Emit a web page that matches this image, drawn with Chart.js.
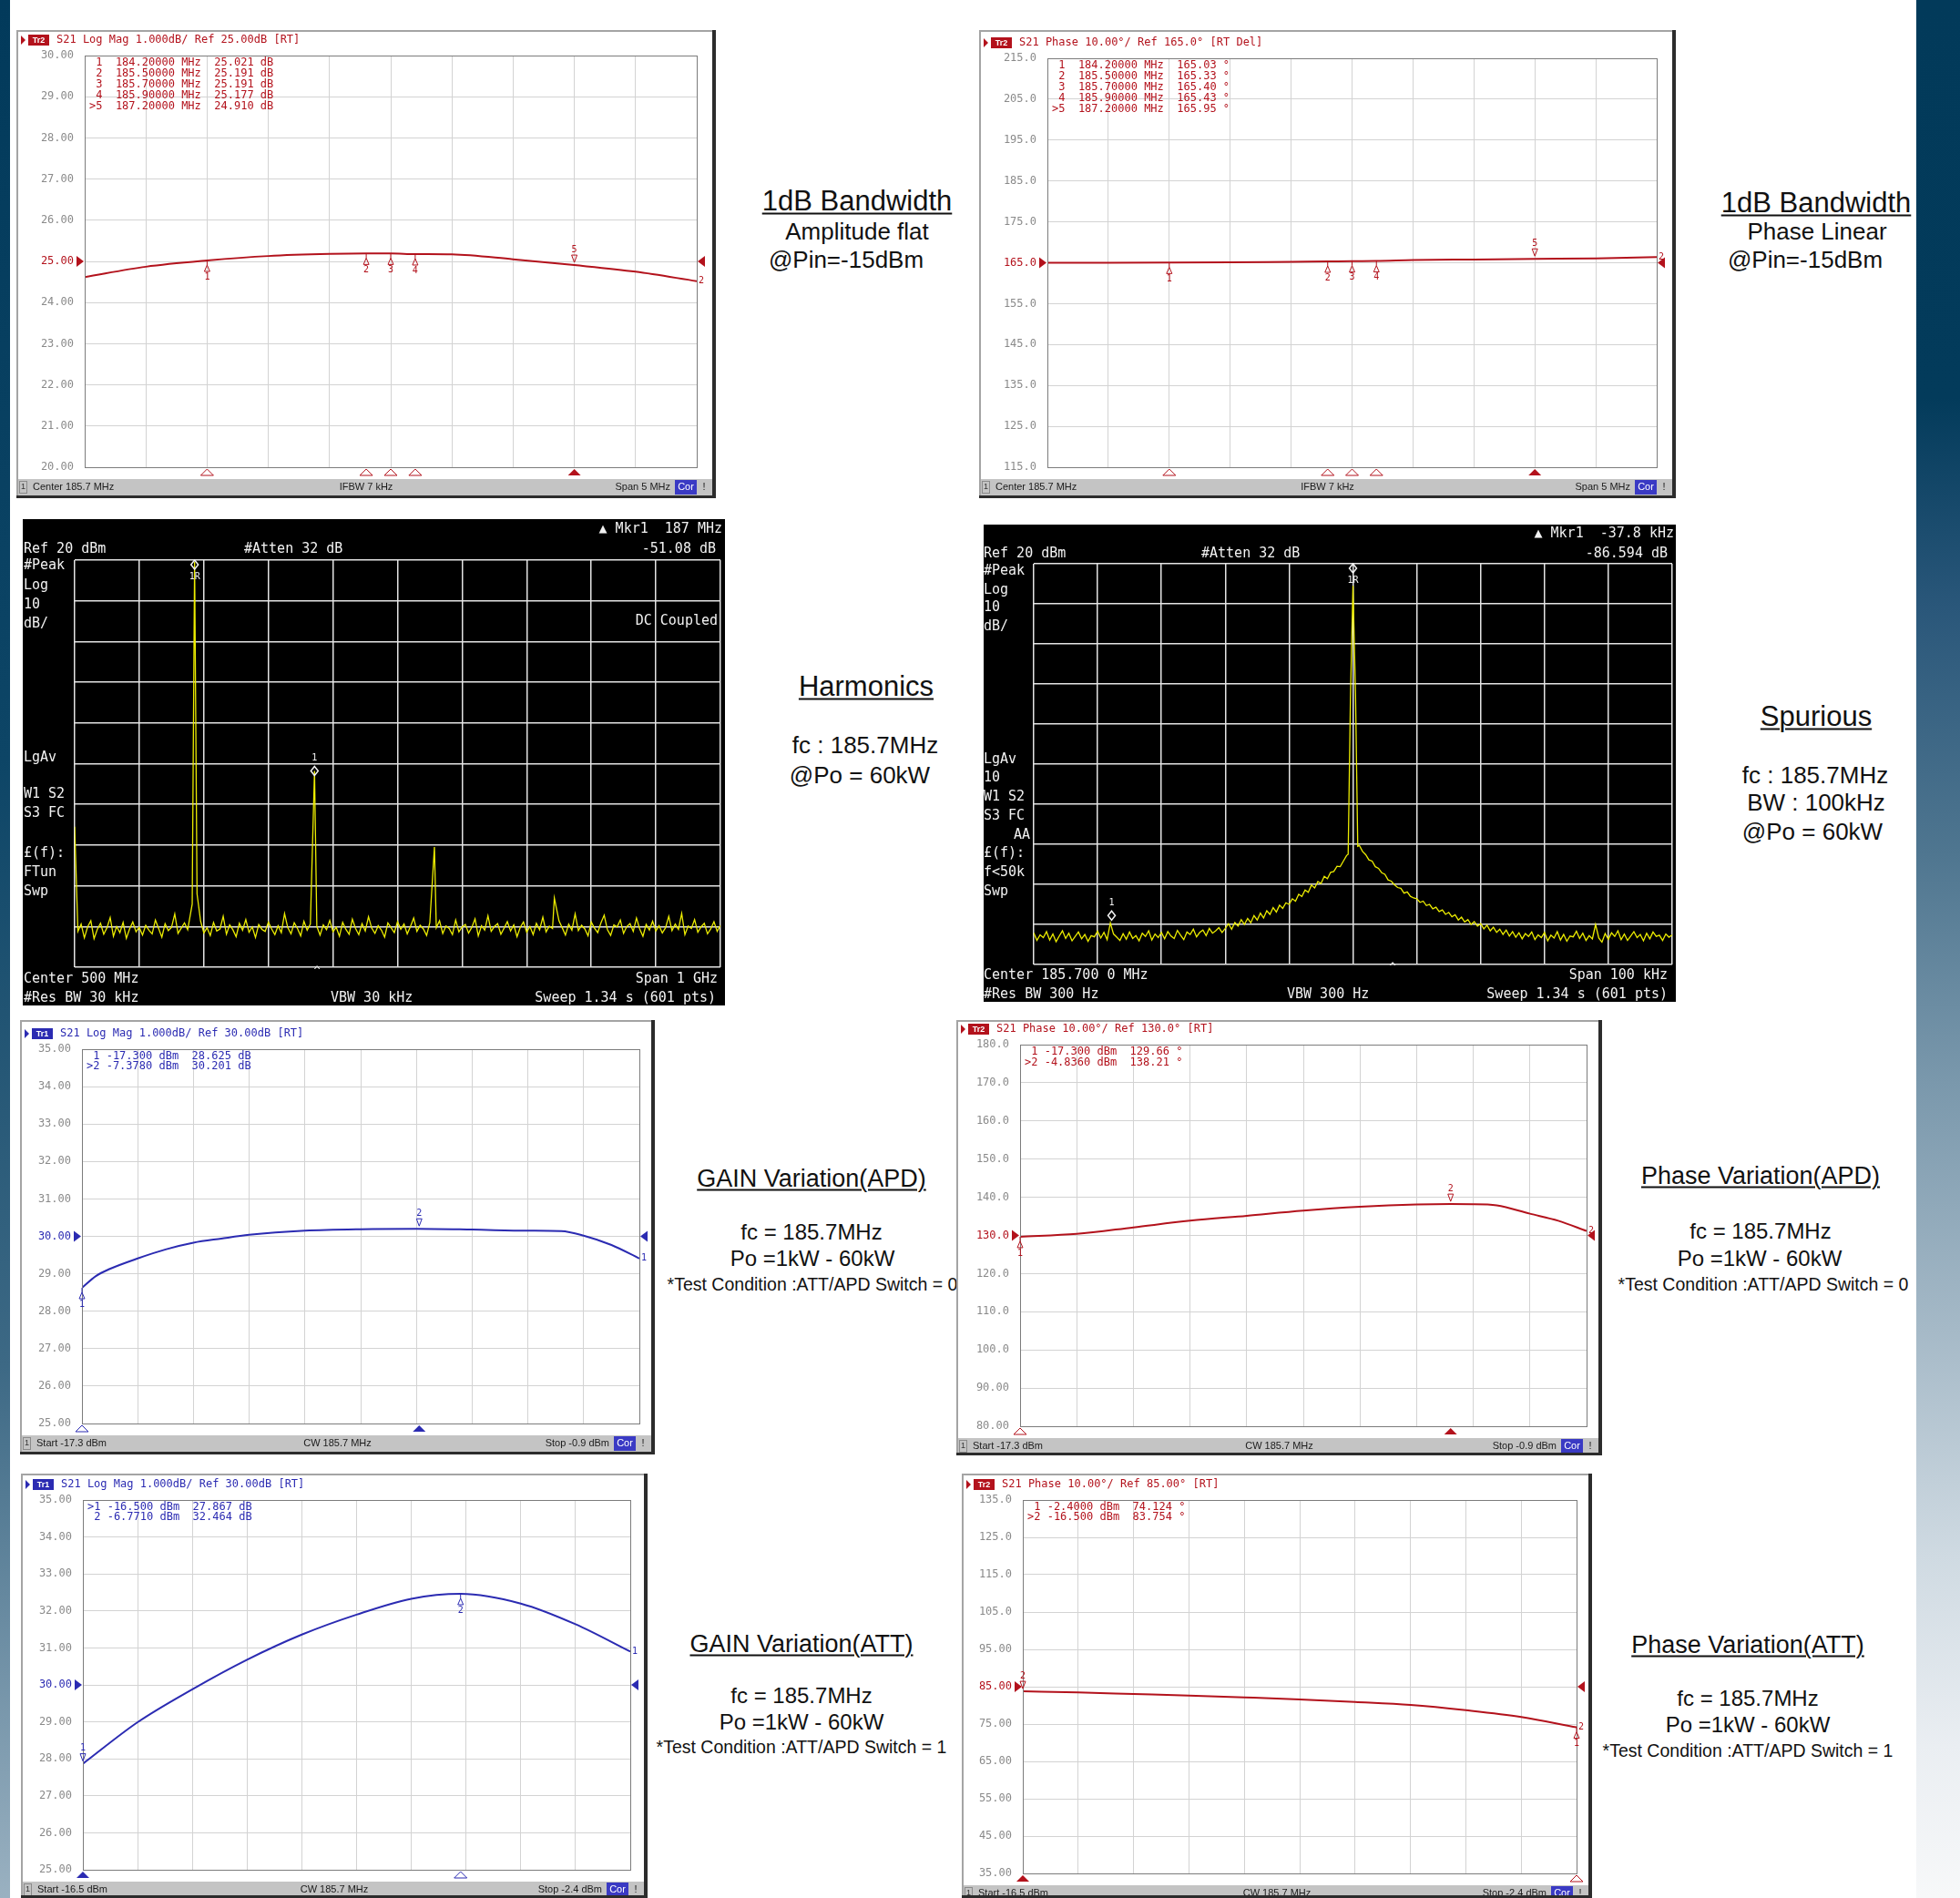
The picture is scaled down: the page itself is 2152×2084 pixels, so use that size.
<!DOCTYPE html>
<html>
<head>
<meta charset="utf-8">
<title>PA test results</title>
<script src="https://cdn.jsdelivr.net/npm/chart.js@4.4.1/dist/chart.umd.min.js"></script>
<style>
  html, body { margin: 0; padding: 0; background: #fff; overflow: hidden; }
  #page { position: relative; width: 2152px; height: 2084px; overflow: hidden; background: #fff;
          font-family: "Liberation Sans", Arial, sans-serif; color: #111; }
  .strip { position: absolute; top: 0; height: 2084px; }
  #stripL { left: 0; width: 11px; background: linear-gradient(#023a5b 0%, #0d4566 40%, #3d6985 72%, #9ab1c1 100%); }
  #stripR { left: 2104px; width: 48px; background: linear-gradient(#023a5a 0%, #033b5b 21%, #2a577a 32%, #4f7690 45%, #7a98ac 57%, #a5b9c7 70%, #cfdae2 82%, #eaeef2 92%, #f7f8f9 100%); }
  .panel { position: absolute; }
  .panel canvas { display: block; }
  .t { position: absolute; white-space: nowrap; transform: translate(-50%, -50%); line-height: 1; }
  .h { text-decoration: underline; text-decoration-thickness: 2px; text-underline-offset: 3px; }
</style>
</head>
<body>
<div id="page">
  <div class="strip" id="stripL"></div>
  <div class="strip" id="stripR"></div>

  <!-- captions -->
  <div class="t h" style="left:941px;top:220px;font-size:31px">1dB Bandwidth</div>
  <div class="t" style="left:941px;top:254px;font-size:26px">Amplitude flat</div>
  <div class="t" style="left:929px;top:285px;font-size:26px">@Pin=-15dBm</div>

  <div class="t h" style="left:1994px;top:222px;font-size:31px">1dB Bandwidth</div>
  <div class="t" style="left:1995px;top:254px;font-size:26px">Phase Linear</div>
  <div class="t" style="left:1982px;top:285px;font-size:26px">@Pin=-15dBm</div>

  <div class="t h" style="left:951px;top:753px;font-size:31px">Harmonics</div>
  <div class="t" style="left:950px;top:818px;font-size:26px">fc : 185.7MHz</div>
  <div class="t" style="left:944px;top:851px;font-size:26px">@Po = 60kW</div>

  <div class="t h" style="left:1994px;top:786px;font-size:31px">Spurious</div>
  <div class="t" style="left:1993px;top:851px;font-size:26px">fc : 185.7MHz</div>
  <div class="t" style="left:1994px;top:881px;font-size:26px">BW : 100kHz</div>
  <div class="t" style="left:1990px;top:913px;font-size:26px">@Po = 60kW</div>

  <div class="t h" style="left:891px;top:1294px;font-size:27px">GAIN Variation(APD)</div>
  <div class="t" style="left:891px;top:1353px;font-size:24px">fc = 185.7MHz</div>
  <div class="t" style="left:892px;top:1382px;font-size:24px">Po =1kW - 60kW</div>
  <div class="t" style="left:892px;top:1411px;font-size:19.5px">*Test Condition :ATT/APD Switch = 0</div>

  <div class="t h" style="left:1933px;top:1291px;font-size:27px">Phase Variation(APD)</div>
  <div class="t" style="left:1933px;top:1352px;font-size:24px">fc = 185.7MHz</div>
  <div class="t" style="left:1932px;top:1382px;font-size:24px">Po =1kW - 60kW</div>
  <div class="t" style="left:1936px;top:1411px;font-size:19.5px">*Test Condition :ATT/APD Switch = 0</div>

  <div class="t h" style="left:880px;top:1805px;font-size:27px">GAIN Variation(ATT)</div>
  <div class="t" style="left:880px;top:1862px;font-size:24px">fc = 185.7MHz</div>
  <div class="t" style="left:880px;top:1891px;font-size:24px">Po =1kW - 60kW</div>
  <div class="t" style="left:880px;top:1919px;font-size:19.5px">*Test Condition :ATT/APD Switch = 1</div>

  <div class="t h" style="left:1919px;top:1806px;font-size:27px">Phase Variation(ATT)</div>
  <div class="t" style="left:1919px;top:1865px;font-size:24px">fc = 185.7MHz</div>
  <div class="t" style="left:1919px;top:1894px;font-size:24px">Po =1kW - 60kW</div>
  <div class="t" style="left:1919px;top:1923px;font-size:19.5px">*Test Condition :ATT/APD Switch = 1</div>

  <!-- instrument screens -->
  <div class="panel" style="left:18px;top:33px"><canvas id="cBwGain" width="768" height="514"></canvas></div>
  <div class="panel" style="left:1075px;top:33px"><canvas id="cBwPhase" width="765" height="514"></canvas></div>
  <div class="panel" style="left:25px;top:570px"><canvas id="cHarm" width="771" height="534"></canvas></div>
  <div class="panel" style="left:1080px;top:576px"><canvas id="cSpur" width="760" height="524"></canvas></div>
  <div class="panel" style="left:22px;top:1120px"><canvas id="cApdGain" width="697" height="477"></canvas></div>
  <div class="panel" style="left:1050px;top:1120px"><canvas id="cApdPhase" width="709" height="478"></canvas></div>
  <div class="panel" style="left:23px;top:1618px"><canvas id="cAttGain" width="688" height="466"></canvas></div>
  <div class="panel" style="left:1056px;top:1618px"><canvas id="cAttPhase" width="692" height="466"></canvas></div>
</div>

<script>
// ===== DATA =====

// 1 dB bandwidth, frequency sweep (Center 185.7 MHz, Span 5 MHz)
const bwCenter = 185.7, bwSpan = 5;
const bwFreq  = [183.2, 183.7, 184.2, 184.7, 185.2, 185.5, 185.7, 185.9, 186.2, 186.7, 187.2, 187.7, 188.2];
const bwGain  = [24.62, 24.87, 25.021, 25.13, 25.18, 25.191, 25.191, 25.177, 25.17, 25.05, 24.910, 24.75, 24.52];
const bwPhase = [165.0, 165.0, 165.03, 165.1, 165.25, 165.33, 165.40, 165.43, 165.65, 165.8, 165.95, 166.05, 166.4];
const bwMkrFreq  = [184.2, 185.5, 185.7, 185.9, 187.2];
const bwMkrGain  = [25.021, 25.191, 25.191, 25.177, 24.910];
const bwMkrPhase = [165.03, 165.33, 165.40, 165.43, 165.95];

// APD power sweep (Start -17.3 dBm, Stop -0.9 dBm)
const apdStart = -17.3, apdStop = -0.9;
const apdGainPin = [-17.3, -16.89, -16.48, -15.66, -14.84, -14.02, -13.2, -12.38, -10.74, -9.1, -7.46, -5.82, -4.18, -3.2, -2.54, -1.72, -0.9];
const apdGain    = [28.625, 28.94, 29.13, 29.41, 29.65, 29.83, 29.94, 30.04, 30.15, 30.19, 30.20, 30.18, 30.15, 30.14, 30.02, 29.77, 29.41];
const apdPhasePin = [-17.3, -15.66, -14.02, -12.38, -10.74, -9.1, -7.46, -5.82, -4.836, -4.18, -3.5, -2.54, -1.72, -0.9];
const apdPhase    = [129.66, 130.4, 132.1, 133.85, 135.15, 136.5, 137.5, 138.1, 138.21, 138.2, 137.9, 135.7, 133.85, 131.15];
const apdGainMkrPin  = [-17.3, -7.378],  apdGainMkrVal  = [28.625, 30.201];
const apdPhaseMkrPin = [-17.3, -4.836],  apdPhaseMkrVal = [129.66, 138.21];

// ATT power sweep (Start -16.5 dBm, Stop -2.4 dBm)
const attStart = -16.5, attStop = -2.4;
const attGainPin = [-16.5, -15.09, -13.68, -12.27, -10.86, -9.45, -8.04, -6.771, -5.22, -3.81, -2.4];
const attGain    = [27.867, 28.99, 29.88, 30.68, 31.36, 31.9, 32.33, 32.464, 32.2, 31.64, 30.9];
const attPhasePin = [-16.5, -15.09, -13.68, -12.27, -10.86, -9.45, -8.04, -6.63, -5.22, -3.81, -2.4];
const attPhase    = [83.754, 83.45, 83.05, 82.65, 82.15, 81.6, 80.9, 80.1, 78.7, 76.9, 74.124];
const attGainMkrPin  = [-16.5, -6.771], attGainMkrVal  = [27.867, 32.464];
const attPhaseMkrPin = [-2.4, -16.5],   attPhaseMkrVal = [74.124, 83.754];

// spectrum analyser: Ref 20 dBm, 10 dB/div
const specRef = 20, specDiv = 10;

// harmonics, 0 - 1000 MHz, noise read every 5 MHz
const harmStep = 5;
const harmNoise = [
  -71.2,-69.4,-72.8,-70.1,-68.6,-73.0,-70.7,-69.2,-71.9,-70.3,-67.8,-72.4,-70.0,-71.5,-69.0,-72.9,-70.6,-68.9,-71.3,-70.2,
  -72.1,-69.7,-70.9,-71.8,-68.4,-70.5,-72.6,-69.3,-71.0,-70.2,-66.9,-71.7,-70.4,-69.1,-70.8,-69.5,-71.4,-70.0,-68.7,-71.6,
  -70.3,-72.2,-69.0,-71.1,-70.6,-67.5,-71.9,-69.6,-70.8,-72.5,-69.2,-70.9,-68.3,-71.4,-70.1,-72.7,-69.5,-70.7,-71.2,-68.9,
  -70.6,-72.0,-69.8,-71.5,-66.8,-70.3,-71.8,-69.1,-70.5,-72.3,-68.7,-70.9,-69.4,-71.6,-70.0,-72.1,-69.6,-70.8,-68.5,-71.3,
  -70.2,-72.4,-69.0,-70.7,-71.9,-68.2,-70.5,-72.0,-69.3,-71.1,-67.6,-70.4,-71.7,-69.8,-70.9,-72.6,-69.1,-70.3,-71.5,-68.8,
  -70.7,-69.4,-71.8,-70.0,-67.9,-71.2,-69.7,-70.6,-72.2,-69.0,-71.0,-70.3,-68.6,-71.7,-69.9,-70.5,-72.0,-68.4,-71.3,-70.1,
  -69.5,-71.6,-70.2,-68.1,-72.3,-69.8,-70.9,-67.4,-71.2,-70.0,-69.3,-71.9,-70.4,-68.8,-71.1,-69.6,-72.5,-70.2,-68.9,-71.4,
  -70.0,-72.0,-69.2,-70.8,-67.7,-71.3,-69.9,-70.5,-71.8,-68.6,-70.3,-72.1,-69.4,-70.9,-66.9,-71.0,-69.7,-70.6,-72.3,-68.9,
  -70.4,-71.5,-69.1,-67.2,-70.8,-72.2,-69.6,-70.1,-68.4,-71.7,-70.0,-69.3,-71.2,-67.9,-70.6,-72.4,-69.5,-70.9,-68.7,-71.1,
  -69.8,-71.6,-70.3,-67.5,-71.0,-69.4,-70.7,-66.8,-72.0,-69.9,-70.5,-68.3,-71.4,-70.1,-69.2,-71.8,-70.6,-68.8,-71.2,-69.7
];
const harmPeakFreq  = [0, 182, 185.7, 189.5, 371.4, 557.1, 742.8];
const harmPeakLevel = [-45.5, -64.5, 19.6, -62, -31.8, -50.5, -63];
const harmMkrFreq  = [185.7, 371.4];
const harmMkrLevel = [19.6, -31.8];

// spurious, 185.7 MHz +/- 50 kHz, read every 0.5 kHz outside the carrier
const spurStep = 0.5;
const spurLeft = [
  -72.1,-74.0,-72.6,-73.3,-71.8,-73.9,-72.4,-74.3,-72.9,-71.6,-73.5,-72.2,-74.1,-73.0,-71.9,-73.6,-72.5,-74.2,-72.8,-73.1,
  -71.7,-73.4,-72.0,-73.8,-69.6,-72.4,-73.2,-74.0,-72.3,-73.7,-71.9,-73.5,-72.8,-74.1,-72.2,-73.0,-71.6,-73.9,-72.4,-73.3,
  -72.0,-73.6,-71.8,-72.9,-73.5,-71.5,-72.7,-73.8,-71.9,-72.5,-71.2,-73.1,-72.0,-71.4,-72.8,-71.0,-72.2,-71.6,-70.8,-72.0,
  -71.0,-69.8,-71.2,-69.5,-70.4,-68.8,-70.0,-68.5,-69.6,-67.8,-68.9,-67.2,-68.4,-66.6,-67.5,-65.8,-66.9,-65.2,-66.0,-64.6,
  -65.0,-63.6,-64.2,-62.5,-63.0,-61.4,-62.0,-60.2,-60.9,-59.3,-59.8,-58.0,-58.6,-57.0,-56.8,-55.5,-55.6,-54.2,-52.8
];
const spurRight = [
  -50.3,-51.8,-52.6,-53.9,-54.2,-55.6,-56.0,-57.1,-57.5,-58.9,-59.2,-60.1,-60.8,-61.0,-62.2,-61.9,-63.0,-63.4,
  -63.6,-64.5,-64.2,-65.3,-65.0,-66.1,-65.7,-66.8,-66.4,-67.5,-67.0,-68.1,-67.6,-68.9,-68.2,-69.4,-68.8,-70.0,-69.3,-70.4,
  -69.8,-71.1,-70.2,-71.6,-70.7,-72.0,-71.2,-72.5,-71.4,-72.9,-71.8,-73.2,-72.1,-73.6,-72.3,-73.0,-71.9,-73.8,-72.6,-73.3,
  -72.0,-74.1,-72.7,-73.4,-71.8,-73.9,-72.5,-74.2,-72.9,-73.1,-71.7,-73.5,-72.2,-74.0,-72.8,-73.6,-70.0,-73.4,-74.4,-72.3,
  -73.7,-72.1,-73.0,-71.6,-73.8,-72.4,-74.0,-72.9,-71.8,-73.3,-72.5,-74.1,-72.2,-73.6,-71.9,-73.0,-72.7,-74.0,-72.4,-73.2,-72.6
];
const spurPeakOffset = [-0.75, -0.4, 0, 0.4, 0.75];
const spurPeakLevel  = [-52.5, -14, 14.5, -12.5, -50.5];
const spurMkrOffset = [0, -37.8];
const spurMkrLevel  = [14.5, -69.6];

// ===== DRAWING =====
const RED = '#b3121c', BLUE = '#2b2bb2';
const MONO = '"DejaVu Sans Mono", monospace';
const SANS = '"Liberation Sans", Arial, sans-serif';

function divTicks(min, max, n) {
  return scale => {
    scale.ticks = [];
    for (let k = 0; k <= n; k++) scale.ticks.push({ value: min + k * (max - min) / n });
  };
}

function fmtVna(v) { return Math.abs(v) >= 99.995 ? v.toFixed(1) : v.toFixed(2); }

function tri(c, p, filled) {
  c.beginPath(); c.moveTo(p[0][0], p[0][1]); c.lineTo(p[1][0], p[1][1]); c.lineTo(p[2][0], p[2][1]); c.closePath();
  if (filled) c.fill(); else c.stroke();
}

function freqTable(fs, vs, active, unit) {
  return fs.map((f, i) => (i === active ? '>' : ' ') + (i + 1) + '  ' + f.toFixed(5) + ' MHz  ' + vs[i].toPrecision(5) + ' ' + unit);
}
function powerTable(ps, vs, active, unit) {
  return ps.map((p, i) => (i === active ? '>' : ' ') + (i + 1) + ' ' + p.toPrecision(5).padStart(7) + ' dBm  ' + vs[i].toPrecision(5) + ' ' + unit);
}

// network analyser window furniture
function vnaDecor(p) {
  return {
    id: 'vnaDecor',
    beforeDraw(chart) {
      const c = chart.ctx;
      c.save(); c.fillStyle = '#fff'; c.fillRect(0, 0, chart.width, chart.height); c.restore();
    },
    afterDraw(chart) {
      const c = chart.ctx, a = chart.chartArea, W = chart.width, H = chart.height;
      const xs = chart.scales.x, ys = chart.scales.y;
      c.save();
      c.textBaseline = 'middle';
      c.strokeStyle = '#7c7c7c'; c.lineWidth = 1;
      c.strokeRect(Math.round(a.left) + 0.5, Math.round(a.top) + 0.5, Math.round(a.width), Math.round(a.height));

      // title row
      const ty = a.top - 17;
      c.fillStyle = p.color;
      tri(c, [[5, ty - 5], [10, ty], [5, ty + 5]], true);
      c.fillRect(13, ty - 6, 23, 12);
      c.fillStyle = '#fff'; c.font = 'bold 9px ' + SANS; c.textAlign = 'center';
      c.fillText(p.trace, 24.5, ty + 0.5);
      c.fillStyle = p.color; c.font = '12px ' + MONO; c.textAlign = 'left';
      c.fillText(p.title, 44, ty);

      // marker table
      p.table.forEach((line, i) => c.fillText(line, a.left + 5, a.top + 8 + i * p.rowH));

      // reference level arrows
      const ry = ys.getPixelForValue(p.ref);
      tri(c, [[a.left - 9, ry - 6], [a.left - 1, ry], [a.left - 9, ry + 6]], true);
      tri(c, [[a.right + 9, ry - 6], [a.right + 1, ry], [a.right + 9, ry + 6]], true);

      // trace number at end of trace
      const pts = chart.getDatasetMeta(0).data;
      c.font = '10px ' + MONO;
      c.fillText(p.trace.slice(-1), a.right + 2, pts[pts.length - 1].y);

      // markers
      p.mkX.forEach((mx, i) => {
        const px = xs.getPixelForValue(mx), py = ys.getPixelForValue(p.mkY[i]);
        const act = i === p.active, n = String(i + 1);
        c.strokeStyle = p.color; c.fillStyle = p.color; c.lineWidth = 1; c.textAlign = 'center';
        if (act) {
          tri(c, [[px - 3, py - 11], [px + 3, py - 11], [px, py - 3]], false);
          c.fillText(n, px, py - 17);
        } else {
          c.beginPath(); c.moveTo(px, py); c.lineTo(px, py + 5); c.stroke();
          tri(c, [[px, py + 5], [px - 3, py + 12], [px + 3, py + 12]], false);
          c.fillText(n, px, py + 18);
        }
        tri(c, [[px, a.bottom + 2], [px - 7, a.bottom + 9], [px + 7, a.bottom + 9]], act);
      });

      // status bar
      const sy = a.bottom + 13, sh = 18, sm = sy + sh / 2;
      c.fillStyle = '#c4c4c4'; c.fillRect(2, sy, W - 6, sh);
      c.strokeStyle = '#8a8a8a'; c.strokeRect(3.5, sy + 2.5, 8, sh - 5);
      c.fillStyle = '#333'; c.font = '9px ' + SANS; c.textAlign = 'center'; c.fillText('1', 7.5, sm);
      c.font = '11px ' + SANS; c.fillStyle = '#1a1a1a';
      c.textAlign = 'left'; c.fillText(p.status[0], 18, sm);
      c.textAlign = 'center'; c.fillText(p.status[1], W / 2, sm);
      c.textAlign = 'right'; c.fillText(p.status[2], W - 50, sm);
      c.fillStyle = '#3a3ac4'; c.fillRect(W - 45, sy + 1, 24, sh - 2);
      c.fillStyle = '#fff'; c.textAlign = 'center'; c.fillText('Cor', W - 33, sm);
      c.fillStyle = '#1a1a1a'; c.fillText('!', W - 13, sm);

      // window frame
      c.strokeStyle = '#a4a4a4'; c.lineWidth = 2; c.strokeRect(1, 1, W - 2, H - 2);
      c.fillStyle = '#2c2c2c'; c.fillRect(W - 4, 0, 4, H); c.fillRect(0, H - 3, W, 3);
      c.restore();
    }
  };
}

function vnaChart(id, p) {
  const pts = p.x.map((x, i) => ({ x, y: p.y[i] }));
  return new Chart(document.getElementById(id), {
    type: 'line',
    data: { datasets: [{ data: pts, borderColor: p.color, borderWidth: 2, pointRadius: 0, fill: false, cubicInterpolationMode: 'monotone' }] },
    options: {
      responsive: false, animation: false, events: [],
      layout: { padding: { left: 0, top: p.pad[1], right: p.pad[2], bottom: p.pad[3] } },
      plugins: { legend: { display: false }, tooltip: { enabled: false } },
      scales: {
        x: { type: 'linear', min: p.xMin, max: p.xMax, afterBuildTicks: divTicks(p.xMin, p.xMax, 10),
             ticks: { display: false }, grid: { color: '#d3d3d3', drawTicks: false }, border: { display: false },
             afterFit: s => { s.height = 0; } },
        y: { type: 'linear', min: p.yMin, max: p.yMax, afterBuildTicks: divTicks(p.yMin, p.yMax, 10),
             ticks: { autoSkip: false, padding: 12, font: { family: MONO, size: 12 },
                      color: ctx => (ctx.tick && Math.abs(ctx.tick.value - p.ref) < 1e-6) ? p.color : '#8a8a8a',
                      callback: v => fmtVna(v) },
             grid: { color: '#d3d3d3', drawTicks: false }, border: { display: false },
             afterFit: s => { s.width = p.pad[0]; } }
      }
    },
    plugins: [vnaDecor(p)]
  });
}

// spectrum analyser screen
function specDecor(p) {
  return {
    id: 'specDecor',
    beforeDraw(chart) {
      const c = chart.ctx;
      c.save(); c.fillStyle = '#000'; c.fillRect(0, 0, chart.width, chart.height); c.restore();
    },
    afterDraw(chart) {
      const c = chart.ctx, a = chart.chartArea, xs = chart.scales.x, ys = chart.scales.y;
      c.save();
      c.textBaseline = 'middle';
      c.font = '15px ' + MONO; c.fillStyle = '#f2f2f2';
      p.texts.forEach(t => { c.textAlign = t[3] || 'left'; c.fillText(t[0], t[1], t[2]); });
      c.strokeStyle = '#f2f2f2'; c.lineWidth = 1.5;
      p.mkX.forEach((mx, i) => {
        const px = xs.getPixelForValue(mx);
        let dy, ly;
        if (i === 0) { dy = a.top + 5; ly = a.top + 18; }
        else { dy = ys.getPixelForValue(p.mkY[i]) - p.mkLift; ly = dy - 14; }
        c.beginPath(); c.moveTo(px, dy - 5); c.lineTo(px + 4, dy); c.lineTo(px, dy + 5); c.lineTo(px - 4, dy); c.closePath(); c.stroke();
        c.font = '10px ' + MONO; c.textAlign = 'center';
        c.fillText(i === 0 ? '1R' : '1', px, ly);
      });
      c.font = '12px ' + MONO; c.textAlign = 'center';
      c.fillText('^', p.caret[0], p.caret[1]);
      c.restore();
    }
  };
}

function specChart(id, p) {
  const yMin = specRef - 10 * specDiv;
  const grid = { color: '#e4e4e4', lineWidth: 1.5, drawTicks: false };
  return new Chart(document.getElementById(id), {
    type: 'line',
    data: { datasets: [{ data: p.points, borderColor: '#ecec00', borderWidth: 1.3, pointRadius: 0, fill: false, tension: 0 }] },
    options: {
      responsive: false, animation: false, events: [],
      layout: { padding: { left: 0, top: p.pad[1], right: p.pad[2], bottom: p.pad[3] } },
      plugins: { legend: { display: false }, tooltip: { enabled: false } },
      scales: {
        x: { type: 'linear', min: p.xMin, max: p.xMax, afterBuildTicks: divTicks(p.xMin, p.xMax, 10),
             ticks: { display: false }, grid, border: { display: false }, afterFit: s => { s.height = 0; } },
        y: { type: 'linear', min: yMin, max: specRef, afterBuildTicks: divTicks(yMin, specRef, 10),
             ticks: { display: false }, grid, border: { display: false }, afterFit: s => { s.width = p.pad[0]; } }
      }
    },
    plugins: [specDecor(p)]
  });
}

// noise points plus the discrete tones, sorted along the sweep
function mergeTrace(nx, ny, px, py, gap) {
  const pts = [];
  nx.forEach((x, i) => { if (!px.some(v => Math.abs(v - x) < gap)) pts.push({ x, y: ny[i] }); });
  px.forEach((x, i) => pts.push({ x, y: py[i] }));
  return pts.sort((a, b) => a.x - b.x);
}

// ===== CHARTS =====
vnaChart('cBwGain', {
  x: bwFreq, y: bwGain, xMin: bwCenter - bwSpan / 2, xMax: bwCenter + bwSpan / 2, yMin: 20, yMax: 30, ref: 25,
  color: RED, trace: 'Tr2', title: 'S21 Log Mag 1.000dB/ Ref 25.00dB [RT]', pad: [75, 28, 21, 34], rowH: 12,
  mkX: bwMkrFreq, mkY: bwMkrGain, active: 4, table: freqTable(bwMkrFreq, bwMkrGain, 4, 'dB'),
  status: ['Center 185.7 MHz', 'IFBW 7 kHz', 'Span 5 MHz']
});

vnaChart('cBwPhase', {
  x: bwFreq, y: bwPhase, xMin: bwCenter - bwSpan / 2, xMax: bwCenter + bwSpan / 2, yMin: 115, yMax: 215, ref: 165,
  color: RED, trace: 'Tr2', title: 'S21 Phase 10.00°/ Ref 165.0° [RT Del]', pad: [75, 31, 21, 34], rowH: 12,
  mkX: bwMkrFreq, mkY: bwMkrPhase, active: 4, table: freqTable(bwMkrFreq, bwMkrPhase, 4, '°'),
  status: ['Center 185.7 MHz', 'IFBW 7 kHz', 'Span 5 MHz']
});

vnaChart('cApdGain', {
  x: apdGainPin, y: apdGain, xMin: apdStart, xMax: apdStop, yMin: 25, yMax: 35, ref: 30,
  color: BLUE, trace: 'Tr1', title: 'S21 Log Mag 1.000dB/ Ref 30.00dB [RT]', pad: [68, 32, 17, 34], rowH: 10.5,
  mkX: apdGainMkrPin, mkY: apdGainMkrVal, active: 1, table: powerTable(apdGainMkrPin, apdGainMkrVal, 1, 'dB'),
  status: ['Start -17.3 dBm', 'CW 185.7 MHz', 'Stop -0.9 dBm']
});

vnaChart('cApdPhase', {
  x: apdPhasePin, y: apdPhase, xMin: apdStart, xMax: apdStop, yMin: 80, yMax: 180, ref: 130,
  color: RED, trace: 'Tr2', title: 'S21 Phase 10.00°/ Ref 130.0° [RT]', pad: [70, 27, 17, 32], rowH: 11.5,
  mkX: apdPhaseMkrPin, mkY: apdPhaseMkrVal, active: 1, table: powerTable(apdPhaseMkrPin, apdPhaseMkrVal, 1, '°'),
  status: ['Start -17.3 dBm', 'CW 185.7 MHz', 'Stop -0.9 dBm']
});

vnaChart('cAttGain', {
  x: attGainPin, y: attGain, xMin: attStart, xMax: attStop, yMin: 25, yMax: 35, ref: 30,
  color: BLUE, trace: 'Tr1', title: 'S21 Log Mag 1.000dB/ Ref 30.00dB [RT]', pad: [68, 29, 19, 31], rowH: 10.5,
  mkX: attGainMkrPin, mkY: attGainMkrVal, active: 0, table: powerTable(attGainMkrPin, attGainMkrVal, 0, 'dB'),
  status: ['Start -16.5 dBm', 'CW 185.7 MHz', 'Stop -2.4 dBm']
});

vnaChart('cAttPhase', {
  x: attPhasePin, y: attPhase, xMin: attStart, xMax: attStop, yMin: 35, yMax: 135, ref: 85,
  color: RED, trace: 'Tr2', title: 'S21 Phase 10.00°/ Ref 85.00° [RT]', pad: [67, 29, 17, 27], rowH: 10.5,
  mkX: attPhaseMkrPin, mkY: attPhaseMkrVal, active: 1, table: powerTable(attPhaseMkrPin, attPhaseMkrVal, 1, '°'),
  status: ['Start -16.5 dBm', 'CW 185.7 MHz', 'Stop -2.4 dBm']
});

specChart('cHarm', {
  points: mergeTrace(harmNoise.map((_, i) => harmStep * (i + 1)), harmNoise, harmPeakFreq, harmPeakLevel, 2.6),
  xMin: 0, xMax: 1000, pad: [57, 45, 5, 42],
  mkX: harmMkrFreq, mkY: harmMkrLevel, mkLift: 0, caret: [323, 497],
  texts: [
    ['▲ Mkr1  187 MHz', 768, 11, 'right'],
    ['Ref 20 dBm', 1, 33], ['#Atten 32 dB', 243, 33], ['-51.08 dB', 761, 33, 'right'],
    ['#Peak', 1, 51], ['Log', 1, 73], ['10', 1, 94], ['dB/', 1, 115],
    ['LgAv', 1, 262], ['W1 S2', 1, 302], ['S3 FC', 1, 323],
    ['£(f):', 1, 367], ['FTun', 1, 388], ['Swp', 1, 409],
    ['DC Coupled', 763, 112, 'right'],
    ['Center 500 MHz', 1, 505], ['Span 1 GHz', 763, 505, 'right'],
    ['#Res BW 30 kHz', 1, 526], ['VBW 30 kHz', 338, 526], ['Sweep 1.34 s (601 pts)', 761, 526, 'right']
  ]
});

const spurX = spurLeft.map((_, i) => -50 + spurStep * i).concat(spurRight.map((_, i) => 1 + spurStep * i));
specChart('cSpur', {
  points: mergeTrace(spurX, spurLeft.concat(spurRight), spurPeakOffset, spurPeakLevel, 0.2),
  xMin: -50, xMax: 50, pad: [55, 43, 4, 41],
  mkX: spurMkrOffset, mkY: spurMkrLevel, mkLift: 8, caret: [449, 487],
  texts: [
    ['▲ Mkr1  -37.8 kHz', 758, 10, 'right'],
    ['Ref 20 dBm', 0, 32], ['#Atten 32 dB', 239, 32], ['-86.594 dB', 751, 32, 'right'],
    ['#Peak', 0, 51], ['Log', 0, 72], ['10', 0, 91], ['dB/', 0, 112],
    ['LgAv', 0, 258], ['10', 0, 278], ['W1 S2', 0, 299], ['S3 FC', 0, 320], ['AA', 51, 341, 'right'],
    ['£(f):', 0, 361], ['f<50k', 0, 382], ['Swp', 0, 403],
    ['Center 185.700 0 MHz', 0, 495], ['Span 100 kHz', 751, 495, 'right'],
    ['#Res BW 300 Hz', 0, 516], ['VBW 300 Hz', 333, 516], ['Sweep 1.34 s (601 pts)', 751, 516, 'right']
  ]
});
</script>
</body>
</html>
